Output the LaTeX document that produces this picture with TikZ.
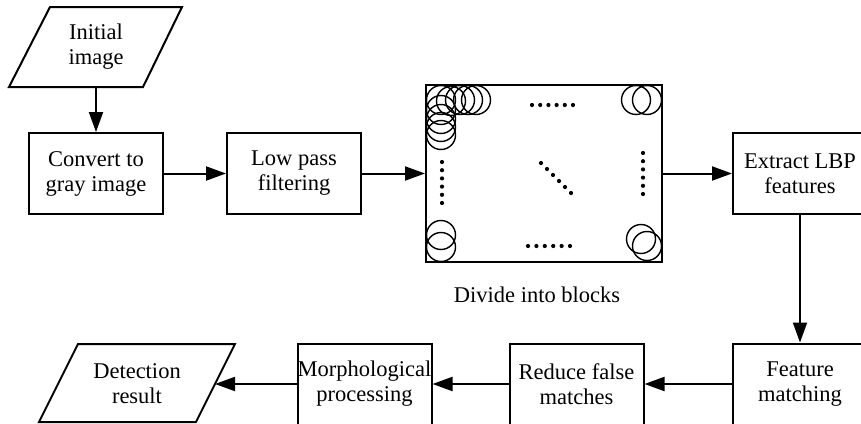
\documentclass[tikz,border=0pt]{standalone}
\usepackage{fontspec}
\setmainfont{Liberation Serif}
\usetikzlibrary{arrows.meta}
\begin{document}
\begin{tikzpicture}[x=1pt,y=-1pt,
  txt/.style={font=\fontsize{22.5}{25}\selectfont,align=center,inner sep=0pt},
  box/.style={txt,draw,line width=2pt,minimum width=134pt,minimum height=81pt},
  para/.style={line width=2pt,line join=miter},
  flow/.style={line width=2pt,-{Triangle[length=20pt,width=14pt]}},
  ring/.style={line width=1.4pt},
  spot/.style={fill=black}]
\useasboundingbox (0,0) rectangle (861,423);
\clip (0,0) rectangle (861,423);

% Initial image (parallelogram)
\draw[para] (50,7) -- (182,7) -- (143,87) -- (9,87) -- cycle;
\node[txt] (init) at (96,47) {Initial\\image};
\coordinate (initB) at (96,87);

% top row boxes
\node[box] (gray) at (96,173.5) {Convert to\\gray image};
\node[box] (low) at (294,173.5) {Low pass\\filtering};
\node[draw,line width=2pt,minimum width=236pt,minimum height=177pt,inner sep=0pt] (blocks) at (544,173.5) {};
\node[txt] (blbl) at (537,295) {Divide into blocks};
\node[box] (lbp) at (800,173.5) {Extract LBP\\features};

% bottom row boxes
\node[box] (match) at (800,384) {Feature\\matching};
\node[box] (reduce) at (576.5,384) {Reduce false\\matches};
\node[box] (morph) at (364.5,384) {Morphological\\processing};

% Detection result (parallelogram)
\draw[para] (78,344) -- (235,344) -- (196,422) -- (39,422) -- cycle;
\node[txt] (det) at (137,384) {Detection\\result};
\coordinate (detR) at (215,384);

% circles inside the block image
\foreach \cx/\cy in {441/100,451/101,460/100,468/100,476/100,
                     441/110,441/119,441/127,441/135,
                     636/100,647/100,
                     441/235,441/247,
                     641/239,647/246}
  \draw[ring] (\cx,\cy) circle (14.5);

% dotted ellipses
\foreach \i in {0,...,5} {
  \fill[spot] (532+8.2*\i,105) circle (2.1);
  \fill[spot] (528+8.4*\i,246) circle (2.1);
  \fill[spot] (442,162+8.2*\i) circle (2.1);
  \fill[spot] (643,153+8.2*\i) circle (2.1);
  \fill[spot] (541+6*\i,163+6*\i) circle (2.1);
}

% connectors
\draw[flow] (initB) -- (gray.north);
\draw[flow] (gray.east) -- (low.west);
\draw[flow] (low.east) -- (blocks.west);
\draw[flow] (blocks.east) -- (lbp.west);
\draw[flow] (lbp.south) -- (match.north);
\draw[flow] (match.west) -- (reduce.east);
\draw[flow] (reduce.west) -- (morph.east);
\draw[flow] (morph.west) -- (detR);
\end{tikzpicture}
\end{document}
